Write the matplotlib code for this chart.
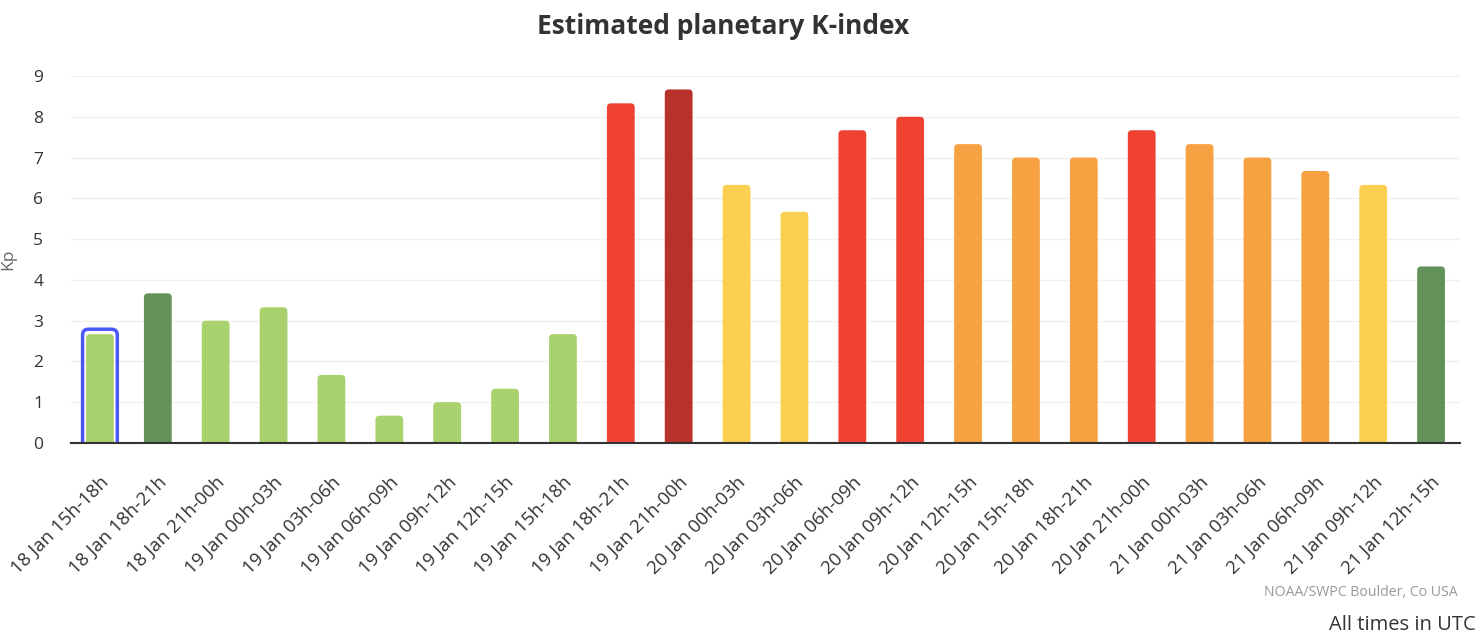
import numpy as np
import matplotlib.pyplot as plt
from matplotlib.patches import FancyBboxPatch

plt.rcParams['font.family'] = ['Open Sans', 'DejaVu Sans']

periods = ["18 Jan 15h-18h", "18 Jan 18h-21h", "18 Jan 21h-00h",
           "19 Jan 00h-03h", "19 Jan 03h-06h", "19 Jan 06h-09h",
           "19 Jan 09h-12h", "19 Jan 12h-15h", "19 Jan 15h-18h",
           "19 Jan 18h-21h", "19 Jan 21h-00h", "20 Jan 00h-03h",
           "20 Jan 03h-06h", "20 Jan 06h-09h", "20 Jan 09h-12h",
           "20 Jan 12h-15h", "20 Jan 15h-18h", "20 Jan 18h-21h",
           "20 Jan 21h-00h", "21 Jan 00h-03h", "21 Jan 03h-06h",
           "21 Jan 06h-09h", "21 Jan 09h-12h", "21 Jan 12h-15h"]
kp = [2.67, 3.67, 3.0, 3.33, 1.67, 0.67, 1.0, 1.33, 2.67,
      8.33, 8.67, 6.33, 5.67, 7.67, 8.0, 7.33, 7.0, 7.0,
      7.67, 7.33, 7.0, 6.67, 6.33, 4.33]
highlight = 0


def kp_color(v):
    k = round(v)
    if k < 4:
        return '#a9d26f'
    if k < 5:
        return '#629259'
    if k < 7:
        return '#fbd052'
    if k < 8:
        return '#f7a242'
    if k < 9:
        return '#ef4232'
    return '#b93229'


fig = plt.figure(figsize=(14.82, 6.43), dpi=100)
ax = fig.add_axes([71 / 1482, 1 - 443 / 643, (1460 - 71) / 1482, (443 - 76) / 643])

x = np.arange(len(kp))
w = 0.48
ax.set_xlim(-0.5, len(kp) - 0.5)
ax.set_ylim(0, 9)

# aspect of data units (y per x) so the corners come out round
asp = (9 / 367) / (24 / 1389)
for xi, v in zip(x, kp):
    p = FancyBboxPatch((xi - w / 2, -0.3), w, v + 0.3,
                       boxstyle="round,pad=0,rounding_size=0.07",
                       mutation_aspect=asp, fc=kp_color(v), ec='none', zorder=3)
    ax.add_patch(p)

# hover outline round the first bar
v = kp[highlight]
ax.add_patch(FancyBboxPatch((highlight - w / 2 - 0.06, -0.3), w + 0.12, v + 0.42,
                            boxstyle="round,pad=0,rounding_size=0.1",
                            mutation_aspect=asp, fc='none', ec='#4a58f7', lw=2.5, zorder=4))

ax.set_yticks(range(10))
ax.yaxis.grid(True, color='#f0f0f0', lw=1)
ax.set_axisbelow(True)
for s in ['top', 'right', 'left']:
    ax.spines[s].set_visible(False)
ax.spines['bottom'].set_color('#333333')
ax.spines['bottom'].set_linewidth(1.5)
ax.spines['bottom'].set_zorder(5)

ax.set_xticks(x)
ax.set_xticklabels(periods, rotation=45, ha='right', rotation_mode='anchor',
                   fontsize=13.4, color='#333333')
for lab in ax.get_xticklabels():
    lab.set_x(lab.get_position()[0])
ax.tick_params(axis='x', length=0, pad=22)
ax.tick_params(axis='y', length=0, labelsize=12.5, labelcolor='#333333', pad=20)

ax.set_ylabel("Kp", fontsize=12.5, color='#666666', labelpad=12)

fig.text(0.488, 1 - 26 / 643, "Estimated planetary K-index", ha='center', va='center',
         fontsize=19, fontweight='bold', color='#333333')
fig.text(1458 / 1482, 1 - 593 / 643, "NOAA/SWPC Boulder, Co USA", ha='right', va='center',
         fontsize=10.2, color='#999999')
fig.text(1476 / 1482, 1 - 625 / 643, "All times in UTC", ha='right', va='center',
         fontsize=14.5, color='#333333')

plt.savefig('out.png', dpi=100)
